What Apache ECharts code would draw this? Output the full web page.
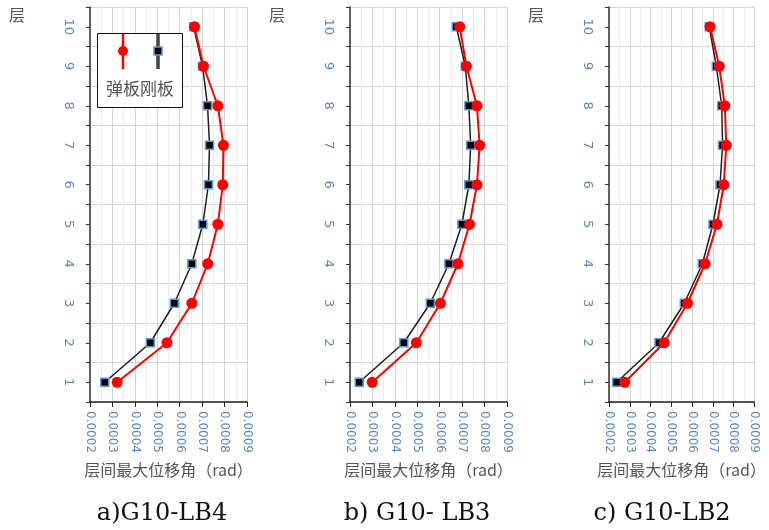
<!DOCTYPE html>
<html>
<head>
<meta charset="utf-8">
<style>
  html, body { margin: 0; padding: 0; background: #fff; }
  #chart { width: 769px; height: 530px; }
</style>
<script src="https://cdn.jsdelivr.net/npm/echarts@6/dist/echarts.min.js"></script>
</head>
<body>
<div id="chart"></div>
<script>
// Storeys (层) and inter-storey maximum drift angle (rad) per model
const floors = [1, 2, 3, 4, 5, 6, 7, 8, 9, 10];

const lb4Elastic = [0.000321, 0.000543, 0.000654, 0.000725, 0.000770, 0.000792, 0.000795, 0.000770, 0.000706, 0.000666];
const lb4Rigid   = [0.000266, 0.000469, 0.000576, 0.000654, 0.000703, 0.000728, 0.000733, 0.000724, 0.000702, 0.000662];

const lb3Elastic = [0.000299, 0.000496, 0.000603, 0.000681, 0.000733, 0.000766, 0.000778, 0.000766, 0.000719, 0.000689];
const lb3Rigid   = [0.000241, 0.000440, 0.000558, 0.000641, 0.000699, 0.000730, 0.000738, 0.000730, 0.000714, 0.000674];

const lb2Elastic = [0.000276, 0.000466, 0.000578, 0.000663, 0.000720, 0.000753, 0.000765, 0.000758, 0.000731, 0.000687];
const lb2Rigid   = [0.000237, 0.000441, 0.000563, 0.000650, 0.000701, 0.000735, 0.000747, 0.000743, 0.000717, 0.000683];

const panelTitles = ['a)G10-LB4', 'b) G10- LB3', 'c) G10-LB2'];
const seriesNames = ['弹板', '刚板'];
const xAxisName = '层间最大位移角（rad）';
const yAxisName = '层';

const panels = [
  { elastic: lb4Elastic, rigid: lb4Rigid, left: 90,  width: 157 },
  { elastic: lb3Elastic, rigid: lb3Rigid, left: 350, width: 157 },
  { elastic: lb2Elastic, rigid: lb2Rigid, left: 609, width: 156 }
];

const cjk = '"Noto Sans CJK SC", "Noto Sans", sans-serif';
const tickColor = '#5a86c0';

const grid = [], xAxis = [], yAxis = [], series = [], graphic = [];

panels.forEach((p, i) => {
  grid.push({ left: p.left, width: p.width, top: 7, height: 395 });

  xAxis.push({
    type: 'value', gridIndex: i,
    min: 0.0002, max: 0.0009, interval: 0.0001,
    name: xAxisName, nameLocation: 'middle', nameGap: 60,
    nameTextStyle: { fontFamily: cjk, fontSize: 16, color: '#555' },
    axisLine: { show: true, onZero: false, lineStyle: { color: '#222', width: 1.5 } },
    axisTick: { show: true, length: 5, lineStyle: { color: '#222' } },
    axisLabel: {
      rotate: -90, margin: 9, fontSize: 12, color: tickColor,
      fontFamily: 'DejaVu Sans',
      formatter: v => v.toFixed(4)
    },
    splitLine: { show: true, lineStyle: { color: '#d4d4d4', width: 1 } },
    minorTick: { show: false, splitNumber: 2 },
    minorSplitLine: { show: true, lineStyle: { color: '#ececec', width: 1 } }
  });

  yAxis.push({
    type: 'value', gridIndex: i,
    min: 0.5, max: 10.5, interval: 0.5,
    name: yAxisName, nameLocation: 'end', nameGap: -8,
    nameTextStyle: {
      fontFamily: cjk, fontSize: 16, color: '#555',
      align: 'right', verticalAlign: 'middle', padding: [0, 65, 0, 0]
    },
    axisLine: { show: true, onZero: false, lineStyle: { color: '#333', width: 1.5 } },
    axisTick: { show: true, length: 4, lineStyle: { color: '#333' } },
    axisLabel: {
      rotate: -90, margin: 15, fontSize: 13, color: tickColor,
      fontFamily: 'DejaVu Sans',
      formatter: v => (Number.isInteger(v) ? String(v) : '')
    },
    splitLine: { show: true, lineStyle: { color: ['#d6d6d6', 'rgba(0,0,0,0)'], width: 1 } }
  });

  series.push({
    name: seriesNames[1], type: 'line', xAxisIndex: i, yAxisIndex: i,
    data: p.rigid.map((v, k) => [v, floors[k]]),
    symbol: 'rect', symbolSize: 8,
    lineStyle: { color: '#1e1e1e', width: 1.5 },
    itemStyle: { color: '#000', borderColor: '#5b9bd5', borderWidth: 1.5 },
    z: 2
  });
  series.push({
    name: seriesNames[0], type: 'line', xAxisIndex: i, yAxisIndex: i,
    data: p.elastic.map((v, k) => [v, floors[k]]),
    symbol: 'circle', symbolSize: 11,
    lineStyle: { color: '#ff0000', width: 2 },
    itemStyle: { color: '#ff0000' },
    z: 3
  });
});

// Panel captions under each plot
const captionCenters = [162, 417, 662];
panelTitles.forEach((t, i) => {
  graphic.push({
    type: 'text', x: captionCenters[i], y: 514,
    style: {
      text: t, fill: '#111', font: '24px "DejaVu Serif", serif',
      textAlign: 'center', textVerticalAlign: 'middle'
    }
  });
});

// Legend box in the first panel: vertical stems with the marker, label below
graphic.push({
  type: 'group', x: 97, y: 33, z: 10,
  children: [
    { type: 'rect', z: 10, shape: { x: 0.5, y: 0.5, width: 85, height: 74 },
      style: { fill: '#fff', stroke: '#111', lineWidth: 1 } },
    { type: 'line', z: 11, shape: { x1: 26, y1: 1, x2: 26, y2: 36 },
      style: { stroke: '#ff0000', lineWidth: 2.5 } },
    { type: 'circle', z: 12, shape: { cx: 26, cy: 18, r: 5 },
      style: { fill: '#ff0000' } },
    { type: 'line', z: 11, shape: { x1: 61, y1: 1, x2: 61, y2: 36 },
      style: { stroke: '#444', lineWidth: 3.5 } },
    { type: 'rect', z: 12, shape: { x: 57, y: 14, width: 8, height: 8 },
      style: { fill: '#000', stroke: '#5b9bd5', lineWidth: 1.5 } },
    { type: 'text', z: 12, x: 43, y: 56,
      style: { text: seriesNames.join(''), fill: '#555', font: '17px ' + cjk,
        textAlign: 'center', textVerticalAlign: 'middle' } }
  ]
});

const chart = echarts.init(document.getElementById('chart'), null, { renderer: 'canvas' });
chart.setOption({
  animation: false,
  backgroundColor: '#fff',
  grid, xAxis, yAxis, series, graphic
});
</script>
</body>
</html>
